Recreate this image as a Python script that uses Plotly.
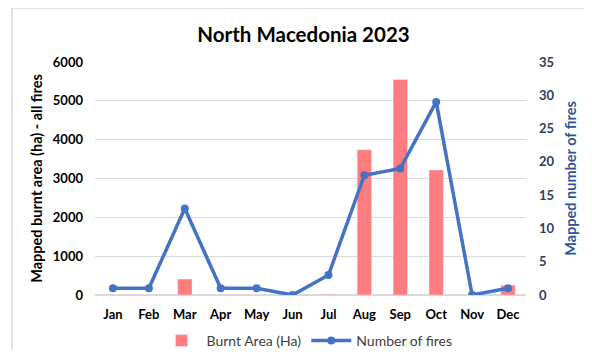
import plotly.graph_objects as go

months = ["Jan", "Feb", "Mar", "Apr", "May", "Jun", "Jul", "Aug", "Sep", "Oct", "Nov", "Dec"]
burnt_area = [10, 0, 410, 10, 0, 0, 20, 3740, 5550, 3220, 0, 250]
num_fires = [1, 1, 13, 1, 1, 0, 3, 18, 19, 29, 0, 1]

# page has an 8px body margin; figure sized so that it fits the window
W, H = 576, 342
L, R, T, B = 87, 58, 54, 55

fig = go.Figure()
fig.add_trace(go.Bar(x=months, y=burnt_area, name="Burnt Area (Ha)",
                     marker_color="#FF7C80", width=0.4, yaxis="y"))
fig.add_trace(go.Scatter(x=months, y=num_fires, name="Number of fires",
                         mode="lines+markers", yaxis="y2",
                         line=dict(color="#4472C4", width=3.5),
                         marker=dict(size=8, color="#4472C4")))

font = "Lato, 'Open Sans', sans-serif"
pw = W - L - R
ph = H - T - B
fig.update_layout(
    width=W, height=H,
    margin=dict(l=L, r=R, t=T, b=B, autoexpand=False),
    paper_bgcolor="white", plot_bgcolor="white",
    font=dict(family=font, size=13, color="#000"),
    title=dict(text="<b>North Macedonia 2023</b>", x=295.5 / W, xanchor="center",
               y=1 - 27 / H, yanchor="middle", font=dict(size=20.5, color="#000")),
    showlegend=True,
    legend=dict(orientation="h", x=(299 - L) / pw, xanchor="center", y=-(333 - (H - B)) / ph,
                yanchor="middle", font=dict(size=14, color="#404040"), itemwidth=40,
                tracegroupgap=0),
    xaxis=dict(range=[-0.5, 11.5], showgrid=False, showline=False, ticks="", automargin=False,
               tickfont=dict(size=13, color="#000", family=font), ticklabelstandoff=10,
               tickprefix="<b>", ticksuffix="</b>"),
    yaxis=dict(range=[0, 6000], dtick=1000, showgrid=True, gridcolor="#D9D9D9",
               zeroline=True, zerolinecolor="#D9D9D9", automargin=False,
               tickfont=dict(size=13, color="#000"), tickprefix="<b>", ticksuffix="</b>",
               ticklabelstandoff=11,
               title=dict(text="<b>Mapped burnt area (ha) - all fires</b>",
                          font=dict(size=14.5, color="#000"), standoff=6)),
    yaxis2=dict(range=[0, 35], dtick=5, overlaying="y", side="right", showgrid=False,
                zeroline=False, automargin=False,
                tickfont=dict(size=13, color="#2F3E5C"), tickprefix="<b>", ticksuffix="</b>",
                ticklabelstandoff=12,
                title=dict(text="<b>Mapped number of fires</b>",
                           font=dict(size=14.5, color="#2F5597"), standoff=12)),
)

fig.add_shape(type="rect", xref="paper", yref="paper",
              x0=(4 - L) / pw, x1=(W + 5 - L) / pw, y0=-(H + 5 - (H - B)) / ph, y1=(H - B) / ph,
              line=dict(color="#D9D9D9", width=1.5), layer="below")

fig.write_html("out.html")
